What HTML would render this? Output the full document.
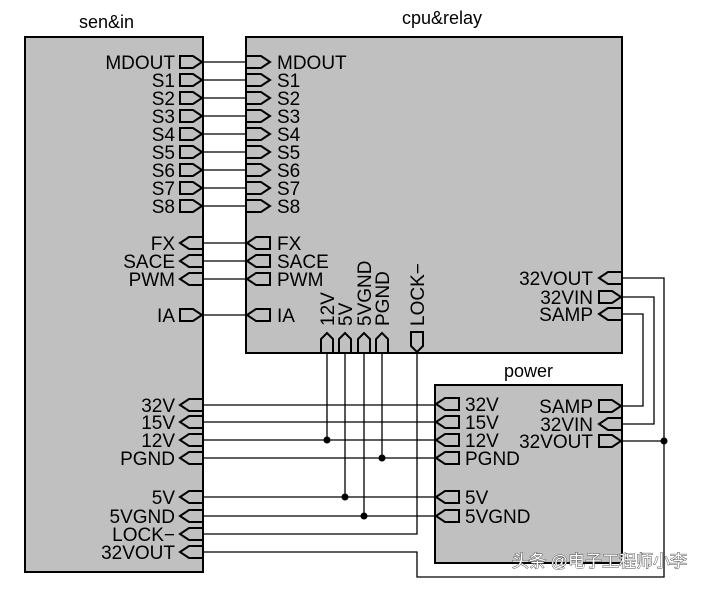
<!DOCTYPE html>
<html><head><meta charset="utf-8"><style>
html,body{margin:0;padding:0;background:#fff;}
svg text{font-family:"Liberation Sans",Arial,sans-serif;font-size:16px;fill:#000;}
.l text{font-size:19px;}
.t{font-size:18px !important;}
</style></head><body>
<svg width="715" height="584" viewBox="0 0 715 584" xmlns="http://www.w3.org/2000/svg">
<g fill="#c0c0c0" stroke="#000" stroke-width="2">
<rect x="25" y="37" width="178" height="535"/>
<rect x="246" y="37" width="376" height="316"/>
<rect x="435" y="385" width="187" height="178"/>
</g>
<text class="t" x="79" y="28">sen&amp;in</text>
<text class="t" x="402" y="24">cpu&amp;relay</text>
<text class="t" x="504" y="377">power</text>
<g stroke="#000" stroke-width="1.3" fill="none">
<path d="M203 62H246M203 80H246M203 98H246M203 116H246M203 134H246M203 152H246M203 170H246M203 188H246M203 206H246M203 243H246M203 261H246M203 279H246M203 315H246"/>
<path d="M203 405H435M203 422H435M203 440H435M203 458H435M203 497H435M203 516H435"/>
<path d="M327 353V440M345 353V497M364 353V516M382 353V458"/>
<path d="M417 353V534H203"/>
<path d="M622 278H664V577H417V552H203"/>
<path d="M622 297H654V424H622"/>
<path d="M622 314H643V406H622"/>
<path d="M622 441H664"/>
</g>
<g fill="#000">
<circle cx="327" cy="440" r="3.5"/><circle cx="345" cy="497" r="3.5"/><circle cx="364" cy="516" r="3.5"/><circle cx="382" cy="458" r="3.5"/><circle cx="664" cy="441" r="3.5"/>
</g>
<g fill="none" stroke="#000" stroke-width="2">
<path d="M180 56H193L202 62L193 68H180Z"/>
<path d="M180 74H193L202 80L193 86H180Z"/>
<path d="M180 92H193L202 98L193 104H180Z"/>
<path d="M180 110H193L202 116L193 122H180Z"/>
<path d="M180 128H193L202 134L193 140H180Z"/>
<path d="M180 146H193L202 152L193 158H180Z"/>
<path d="M180 164H193L202 170L193 176H180Z"/>
<path d="M180 182H193L202 188L193 194H180Z"/>
<path d="M180 200H193L202 206L193 212H180Z"/>
<path d="M180 309H193L202 315L193 321H180Z"/>
<path d="M203 237H189L180 243L189 249H203"/>
<path d="M203 255H189L180 261L189 267H203"/>
<path d="M203 273H189L180 279L189 285H203"/>
<path d="M203 399H189L180 405L189 411H203"/>
<path d="M203 416H189L180 422L189 428H203"/>
<path d="M203 434H189L180 440L189 446H203"/>
<path d="M203 452H189L180 458L189 464H203"/>
<path d="M203 491H189L180 497L189 503H203"/>
<path d="M203 510H189L180 516L189 522H203"/>
<path d="M203 528H189L180 534L189 540H203"/>
<path d="M203 546H189L180 552L189 558H203"/>
<path d="M246 56H261L270 62L261 68H246"/>
<path d="M246 74H261L270 80L261 86H246"/>
<path d="M246 92H261L270 98L261 104H246"/>
<path d="M246 110H261L270 116L261 122H246"/>
<path d="M246 128H261L270 134L261 140H246"/>
<path d="M246 146H261L270 152L261 158H246"/>
<path d="M246 164H261L270 170L261 176H246"/>
<path d="M246 182H261L270 188L261 194H246"/>
<path d="M246 200H261L270 206L261 212H246"/>
<path d="M270 237H256L247 243L256 249H270Z"/>
<path d="M270 255H256L247 261L256 267H270Z"/>
<path d="M270 273H256L247 279L256 285H270Z"/>
<path d="M270 309H256L247 315L256 321H270Z"/>
<path d="M622 272H608L599 278L608 284H622"/>
<path d="M599 291H612L621 297L612 303H599Z"/>
<path d="M622 308H608L599 314L608 320H622"/>
<path d="M321 353V339L327 333L333 339V353"/>
<path d="M339 353V339L345 333L351 339V353"/>
<path d="M358 353V339L364 333L370 339V353"/>
<path d="M376 353V339L382 333L388 339V353"/>
<path d="M411 332H423V346L417 352L411 346Z"/>
<path d="M459 398H445L436 404L445 410H459Z"/>
<path d="M459 416H445L436 422L445 428H459Z"/>
<path d="M459 434H445L436 440L445 446H459Z"/>
<path d="M459 452H445L436 458L445 464H459Z"/>
<path d="M459 491H445L436 497L445 503H459Z"/>
<path d="M459 510H445L436 516L445 522H459Z"/>
<path d="M599 400H612L621 406L612 412H599Z"/>
<path d="M622 418H608L599 424L608 430H622"/>
<path d="M599 435H612L621 441L612 447H599Z"/>
</g>
<g class="l" text-anchor="end">
<text x="175" y="69">MDOUT</text><text x="175" y="87">S1</text><text x="175" y="105">S2</text><text x="175" y="123">S3</text><text x="175" y="141">S4</text><text x="175" y="159">S5</text><text x="175" y="177">S6</text><text x="175" y="195">S7</text><text x="175" y="213">S8</text>
<text x="175" y="250">FX</text><text x="175" y="268">SACE</text><text x="175" y="286">PWM</text><text x="175" y="322">IA</text>
<text x="175" y="412">32V</text><text x="175" y="429">15V</text><text x="175" y="447">12V</text><text x="175" y="465">PGND</text>
<text x="175" y="504">5V</text><text x="175" y="523">5VGND</text><text x="175" y="541">LOCK−</text><text x="175" y="559">32VOUT</text>
<text x="593" y="285">32VOUT</text><text x="593" y="304">32VIN</text><text x="593" y="321">SAMP</text>
<text x="593" y="413">SAMP</text><text x="593" y="431">32VIN</text><text x="593" y="448">32VOUT</text>
</g>
<g class="l">
<text x="277" y="69">MDOUT</text><text x="277" y="87">S1</text><text x="277" y="105">S2</text><text x="277" y="123">S3</text><text x="277" y="141">S4</text><text x="277" y="159">S5</text><text x="277" y="177">S6</text><text x="277" y="195">S7</text><text x="277" y="213">S8</text>
<text x="277" y="250">FX</text><text x="277" y="268">SACE</text><text x="277" y="286">PWM</text><text x="277" y="322">IA</text>
<text x="465" y="411">32V</text><text x="465" y="429">15V</text><text x="465" y="447">12V</text><text x="465" y="465">PGND</text>
<text x="465" y="504">5V</text><text x="465" y="523">5VGND</text>
</g>
<g class="l">
<text transform="translate(334,326) rotate(-90)">12V</text>
<text transform="translate(352,326) rotate(-90)">5V</text>
<text transform="translate(371,326) rotate(-90)">5VGND</text>
<text transform="translate(389,326) rotate(-90)">PGND</text>
<text transform="translate(424,326) rotate(-90)">LOCK−</text>
</g>
<text x="512" y="567" style="font-family:'Liberation Sans','Noto Sans CJK SC',sans-serif;font-size:17px;fill:#fff;stroke:#444;stroke-width:0.9;paint-order:stroke">头条 @电子工程师小李</text>
</svg>
</body></html>
